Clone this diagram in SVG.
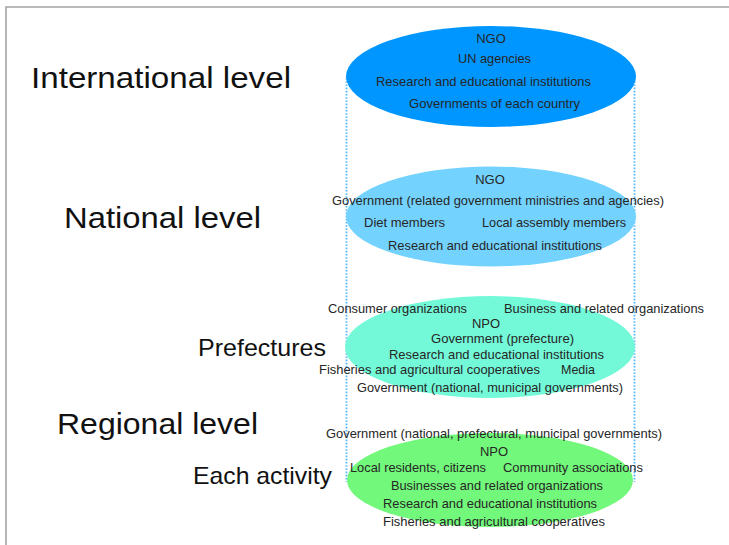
<svg xmlns="http://www.w3.org/2000/svg" width="729" height="545" viewBox="0 0 729 545">
  <style>
    .frame { fill: none; stroke: #a3a3a3; stroke-width: 1.6; }
    .guide { fill: none; stroke: #4fb8ff; stroke-width: 1.8; stroke-dasharray: 1.6 1.6; }
    .item { font-family: "Liberation Sans", Arial, sans-serif; font-size: 13px; fill: #262626; }
    .level { font-family: "Liberation Sans", Arial, sans-serif; font-size: 30px; fill: #111; }
    .sub { font-family: "Liberation Sans", Arial, sans-serif; font-size: 24px; fill: #111; }
  </style>

  <rect width="729" height="545" fill="#ffffff"/>
  <path class="frame" d="M6,546 V7 H730"/>

  <!-- vertical dotted guides joining the four ellipses -->
  <g id="connectors">
    <line class="guide" x1="346.5" y1="78" x2="346.5" y2="482"/>
    <line class="guide" x1="634.5" y1="78" x2="634.5" y2="482"/>
  </g>

  <!-- level captions -->
  <g id="label-international">
    <text class="level" x="31" y="88" textLength="260" lengthAdjust="spacingAndGlyphs">International level</text>
  </g>
  <g id="label-national">
    <text class="level" x="64" y="228" textLength="197" lengthAdjust="spacingAndGlyphs">National level</text>
  </g>
  <g id="label-prefectures">
    <text class="sub" x="198" y="356" textLength="128" lengthAdjust="spacingAndGlyphs">Prefectures</text>
  </g>
  <g id="label-regional">
    <text class="level" x="57" y="434" textLength="201" lengthAdjust="spacingAndGlyphs">Regional level</text>
  </g>
  <g id="label-activity">
    <text class="sub" x="193" y="484" textLength="139" lengthAdjust="spacingAndGlyphs">Each activity</text>
  </g>

  <!-- international level -->
  <g id="node-international">
    <ellipse cx="491" cy="76.5" rx="145" ry="50.5" fill="#0096ff"/>
    <text class="item" x="491" y="43" text-anchor="middle">NGO</text>
    <text class="item" x="458" y="63" textLength="73" lengthAdjust="spacingAndGlyphs">UN agencies</text>
    <text class="item" x="376" y="86" textLength="215" lengthAdjust="spacingAndGlyphs">Research and educational institutions</text>
    <text class="item" x="409" y="108" textLength="171" lengthAdjust="spacingAndGlyphs">Governments of each country</text>
  </g>

  <!-- national level -->
  <g id="node-national">
    <ellipse cx="491" cy="216.5" rx="145" ry="50" fill="#73d3fe"/>
    <text class="item" x="490" y="184" text-anchor="middle">NGO</text>
    <text class="item" x="332" y="205" textLength="332" lengthAdjust="spacingAndGlyphs">Government (related government ministries and agencies)</text>
    <text class="item" x="364" y="227" textLength="81" lengthAdjust="spacingAndGlyphs">Diet members</text>
    <text class="item" x="482" y="227" textLength="144" lengthAdjust="spacingAndGlyphs">Local assembly members</text>
    <text class="item" x="388" y="250" textLength="214" lengthAdjust="spacingAndGlyphs">Research and educational institutions</text>
  </g>

  <!-- prefectures -->
  <g id="node-prefectures">
    <ellipse cx="490" cy="347" rx="145" ry="51" fill="#73f9d8"/>
    <text class="item" x="328" y="313" textLength="139" lengthAdjust="spacingAndGlyphs">Consumer organizations</text>
    <text class="item" x="504" y="313" textLength="200" lengthAdjust="spacingAndGlyphs">Business and related organizations</text>
    <text class="item" x="486" y="328" text-anchor="middle">NPO</text>
    <text class="item" x="431" y="343" textLength="143" lengthAdjust="spacingAndGlyphs">Government (prefecture)</text>
    <text class="item" x="389" y="359" textLength="215" lengthAdjust="spacingAndGlyphs">Research and educational institutions</text>
    <text class="item" x="319" y="374" textLength="221" lengthAdjust="spacingAndGlyphs">Fisheries and agricultural cooperatives</text>
    <text class="item" x="561" y="374" textLength="34" lengthAdjust="spacingAndGlyphs">Media</text>
    <text class="item" x="357" y="392" textLength="266" lengthAdjust="spacingAndGlyphs">Government (national, municipal governments)</text>
  </g>

  <!-- each activity -->
  <g id="node-activity">
    <ellipse cx="490" cy="480" rx="143" ry="47" fill="#72f87a"/>
    <text class="item" x="326" y="438" textLength="336" lengthAdjust="spacingAndGlyphs">Government (national, prefectural, municipal governments)</text>
    <text class="item" x="494" y="456" text-anchor="middle">NPO</text>
    <text class="item" x="350" y="472" textLength="136" lengthAdjust="spacingAndGlyphs">Local residents, citizens</text>
    <text class="item" x="503" y="472" textLength="140" lengthAdjust="spacingAndGlyphs">Community associations</text>
    <text class="item" x="391" y="490" textLength="212" lengthAdjust="spacingAndGlyphs">Businesses and related organizations</text>
    <text class="item" x="383" y="508" textLength="214" lengthAdjust="spacingAndGlyphs">Research and educational institutions</text>
    <text class="item" x="383" y="526" textLength="222" lengthAdjust="spacingAndGlyphs">Fisheries and agricultural cooperatives</text>
  </g>
</svg>
